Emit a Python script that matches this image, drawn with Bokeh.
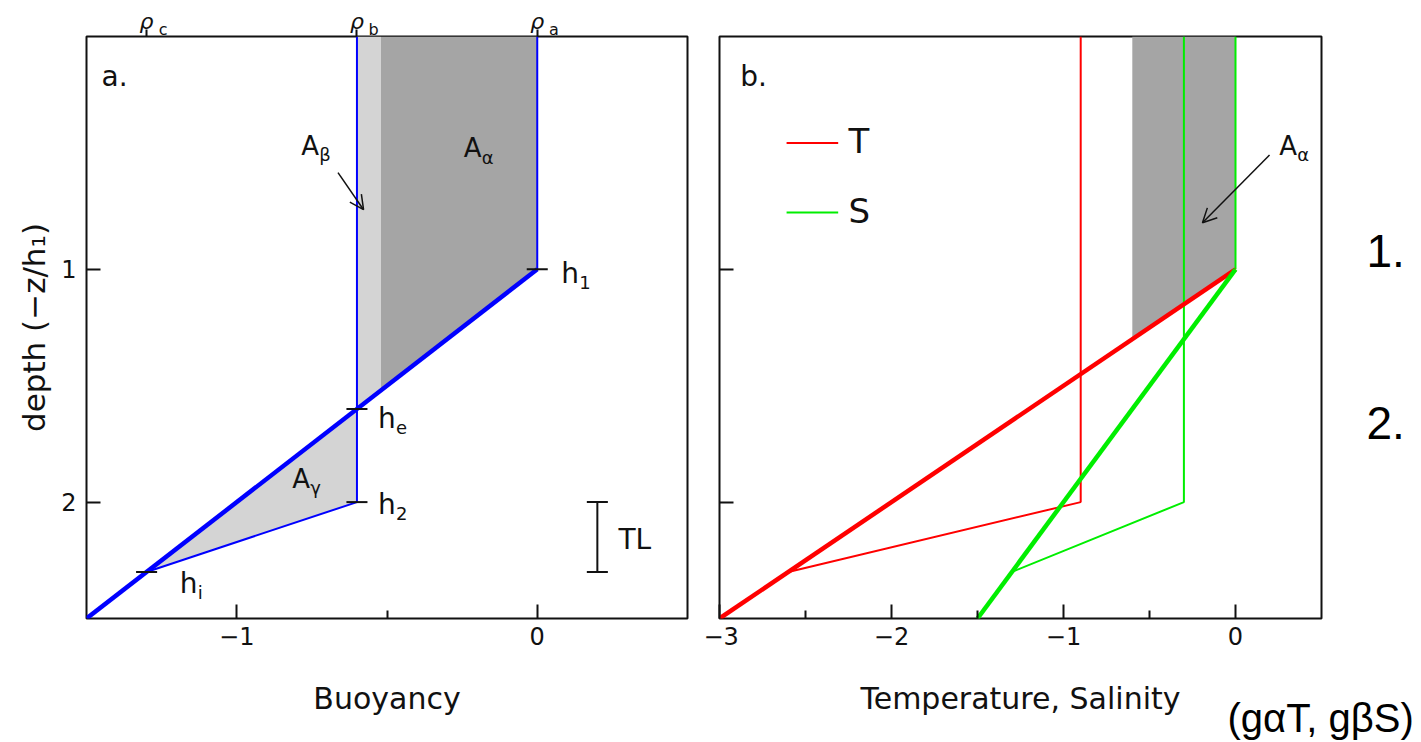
from bokeh.plotting import figure
from bokeh.layouts import row
from bokeh.models import Range1d, LinearAxis, FixedTicker, Label, Arrow, OpenHead
from bokeh.embed import file_html
from bokeh.resources import INLINE

# ---------------- data: panel a (buoyancy) ----------------
rho_ticks = [-1.3, -0.6, 0.0]            # rho_c, rho_b, rho_a
rho_names = ["c", "b", "a"]
b_init_top_x = [0.0, 0.0]                # initial mixed layer
b_init_top_d = [0.0, 1.0]
b_init_grad_x = [0.0, -1.5]              # initial thermocline
b_init_grad_d = [1.0, 2.5]
b_final_x = [-0.6, -0.6, -1.3]           # deepened mixed layer
b_final_d = [0.0, 2.0, 2.3]
dark_x = [-0.52, 0.0, 0.0, -0.52]        # A_alpha
dark_d = [0.0, 0.0, 1.0, 1.52]
light_x = [-0.6, -0.52, -0.52, -0.6]     # A_beta
light_d = [0.0, 0.0, 1.52, 1.6]
gam_x = [-0.6, -0.6, -1.3]               # A_gamma
gam_d = [1.6, 2.0, 2.3]
hmark_x = [0.0, -0.6, -0.6, -1.3]        # h1, he, h2, hi
hmark_d = [1.0, 1.6, 2.0, 2.3]
tl_x = 0.2
tl_d = [2.0, 2.3]

# ---------------- data: panel b (T, S) ----------------
T_top_x = [0.0, 0.0]
T_top_d = [0.0, 1.0]
T_grad_x = [0.0, -3.0]
T_grad_d = [1.0, 2.5]
S_grad_x = [0.0, -1.5]
S_grad_d = [1.0, 2.5]
T_final_x = [-0.9, -0.9, -2.6]
T_final_d = [0.0, 2.0, 2.3]
S_final_x = [-0.3, -0.3, -1.3]
S_final_d = [0.0, 2.0, 2.3]
grey_x = [-0.6, 0.0, 0.0, -0.6]
grey_d = [0.0, 0.0, 1.0, 1.3]

# slide annotations outside the panels
units_text = "(gαT, gβS)"
item_labels = ["1.", "2."]
item_depths = [0.92, 1.66]

FONT = "DejaVu Sans"
BLUE = "#0000ff"
RED = "#ff0000"
GREEN = "#00ee00"
INK = "#111111"
H = 742


def style_axis(ax, label_size="24px"):
    ax.axis_line_color = None
    ax.major_tick_in = 14
    ax.major_tick_out = 0
    ax.minor_tick_in = 8
    ax.minor_tick_out = 0
    ax.major_tick_line_color = INK
    ax.minor_tick_line_color = INK
    ax.major_tick_line_width = 2
    ax.minor_tick_line_width = 2
    ax.major_label_text_font = FONT
    ax.major_label_text_font_size = label_size
    ax.major_label_text_color = INK
    ax.axis_label_text_font = FONT
    ax.axis_label_text_font_size = "30px"
    ax.axis_label_text_font_style = "normal"
    ax.axis_label_text_color = INK


def text_axis(ticks, labels, font, size, standoff, style="normal",
              tick_out=0, color=INK):
    ax = LinearAxis(ticker=FixedTicker(ticks=ticks, minor_ticks=[]))
    ax.axis_line_color = None
    ax.major_tick_in = 0
    ax.major_tick_out = tick_out
    ax.major_tick_line_color = INK if tick_out else None
    ax.major_tick_line_width = 2
    ax.minor_tick_line_color = None
    ax.major_label_overrides = {t: s for t, s in zip(ticks, labels)}
    ax.major_label_text_font = font
    ax.major_label_text_font_size = f"{size}px"
    ax.major_label_text_font_style = style
    ax.major_label_text_color = color
    ax.major_label_standoff = standoff
    return ax


def lab(p, x, y, text, size=28, sub=None, dx=18, dy=-9, subsize=18,
        font=FONT, style="normal", align="left"):
    p.add_layout(Label(x=x, y=y, text=text, text_font=font,
                       text_font_size=f"{size}px", text_color=INK,
                       text_baseline="middle", text_align=align,
                       text_font_style=style))
    if sub is not None:
        p.add_layout(Label(x=x, y=y, text=sub, text_font=font,
                           text_font_size=f"{subsize}px", text_color=INK,
                           text_baseline="middle", text_align="left",
                           x_offset=dx, y_offset=dy))


def make_fig(x0, x1, width, bl, br, xlabel, ylabel):
    p = figure(width=width, height=H, x_range=Range1d(x0, x1),
               y_range=Range1d(2.5, 0.0), output_backend="svg",
               toolbar_location=None, min_border_left=bl,
               min_border_right=br, min_border_top=36,
               min_border_bottom=H - 620, x_axis_label=xlabel,
               y_axis_label=ylabel)
    p.grid.visible = False
    p.outline_line_color = INK
    p.outline_line_width = 2
    p.background_fill_color = "white"
    p.border_fill_color = "white"
    return p


# ================= panel a =================
p1 = make_fig(-1.5, 0.5, 703, 86, 16, "Buoyancy", "depth (−z/h₁)")
style_axis(p1.xaxis[0])
style_axis(p1.yaxis[0])
p1.yaxis[0].axis_label_text_font_size = "31px"
p1.xaxis[0].ticker = FixedTicker(ticks=[-1, 0], minor_ticks=[-0.5])
p1.xaxis[0].major_label_overrides = {-1: "−1", 0: "0"}
p1.xaxis[0].major_label_standoff = 8
p1.xaxis[0].axis_label_standoff = 33
p1.yaxis[0].ticker = FixedTicker(ticks=[1, 2], minor_ticks=[])
p1.yaxis[0].major_label_standoff = 10
p1.yaxis[0].axis_label_standoff = 6

# rho markers on the top edge: "ρ" labels plus their subscripts
p1.add_layout(text_axis(rho_ticks, ["ρ"] * 3, FONT, 22, -4,
                        style="italic", tick_out=7), "above")
p1.add_layout(text_axis([t + 0.055 for t in rho_ticks], rho_names, FONT, 16,
                        -33), "above")

p1.patch(dark_x, dark_d, fill_color="#a5a5a5", line_color=None)
p1.patch(light_x, light_d, fill_color="#d4d4d4", line_color=None)
p1.patch(gam_x, gam_d, fill_color="#d4d4d4", line_color=None)
p1.line(b_init_top_x, b_init_top_d, line_color=BLUE, line_width=2)
p1.line(b_final_x, b_final_d, line_color=BLUE, line_width=2)
p1.line(b_init_grad_x, b_init_grad_d, line_color=BLUE, line_width=4.5)
p1.segment([x - 0.035 for x in hmark_x], hmark_d,
           [x + 0.035 for x in hmark_x], hmark_d,
           line_color=INK, line_width=2)
p1.segment([tl_x], [tl_d[0]], [tl_x], [tl_d[1]], line_color=INK, line_width=2)
p1.segment([tl_x - 0.035] * 2, tl_d, [tl_x + 0.035] * 2, tl_d,
           line_color=INK, line_width=2)

lab(p1, -1.45, 0.17, "a.", size=28)
lab(p1, 0.08, 1.02, "h", sub="1", dx=18, dy=-9)
lab(p1, -0.53, 1.64, "h", sub="e", dx=18, dy=-9)
lab(p1, -0.53, 2.01, "h", sub="2", dx=18, dy=-9)
lab(p1, -1.19, 2.35, "h", sub="i", dx=18, dy=-9)
lab(p1, -0.785, 0.47, "A", size=26, sub="β", dx=18, dy=-9)
lab(p1, -0.245, 0.48, "A", size=26, sub="α", dx=18, dy=-9)
lab(p1, -0.815, 1.9, "A", size=26, sub="γ", dx=18, dy=-9)
lab(p1, 0.27, 2.16, "TL", size=28)
p1.add_layout(Arrow(end=OpenHead(size=14, line_width=1.5, line_color=INK),
                    x_start=-0.663, y_start=0.585, x_end=-0.578, y_end=0.744,
                    line_width=1.5, line_color=INK))

# ================= panel b =================
p2 = make_fig(-3.0, 0.5, 718, 16, 100, "Temperature, Salinity", None)
style_axis(p2.xaxis[0])
style_axis(p2.yaxis[0])
p2.xaxis[0].ticker = FixedTicker(ticks=[-3, -2, -1, 0],
                                 minor_ticks=[-2.5, -1.5, -0.5])
p2.xaxis[0].major_label_overrides = {-3: "−3", -2: "−2", -1: "−1", 0: "0"}
p2.xaxis[0].major_label_standoff = 8
p2.xaxis[0].axis_label_standoff = 33
p2.yaxis[0].ticker = FixedTicker(ticks=[1, 2], minor_ticks=[])
p2.yaxis[0].major_label_overrides = {1: "", 2: ""}
p2.yaxis[0].major_label_standoff = 0

p2.patch(grey_x, grey_d, fill_color="#a5a5a5", line_color=None)
p2.line(T_final_x, T_final_d, line_color=RED, line_width=2)
p2.line(S_final_x, S_final_d, line_color=GREEN, line_width=2)
p2.line(T_top_x, T_top_d, line_color=GREEN, line_width=2)
p2.line(T_grad_x, T_grad_d, line_color=RED, line_width=4.5)
p2.line(S_grad_x, S_grad_d, line_color=GREEN, line_width=4.5)

# legend
p2.segment([-2.61], [0.457], [-2.31], [0.457], line_color=RED, line_width=2)
p2.segment([-2.61], [0.756], [-2.31], [0.756], line_color=GREEN, line_width=2)
lab(p2, -2.25, 0.45, "T", size=34)
lab(p2, -2.25, 0.75, "S", size=34)

lab(p2, -2.88, 0.17, "b.", size=28)
lab(p2, 0.255, 0.47, "A", size=26, sub="α", dx=18, dy=-9)
p2.add_layout(Arrow(end=OpenHead(size=14, line_width=1.5, line_color=INK),
                    x_start=0.198, y_start=0.509, x_end=-0.192, y_end=0.80,
                    line_width=1.5, line_color=INK))

# slide annotations outside the frame, carried by label-only axes
p2.add_layout(text_axis(item_depths, item_labels, "Liberation Sans", 46, 45,
                        color="black"), "right")
p2.add_layout(text_axis([0.495], [units_text], "Liberation Sans", 40, -23,
                        color="black"), "below")

layout = row(p1, p2)
open("out.html", "w").write(file_html(layout, INLINE))
